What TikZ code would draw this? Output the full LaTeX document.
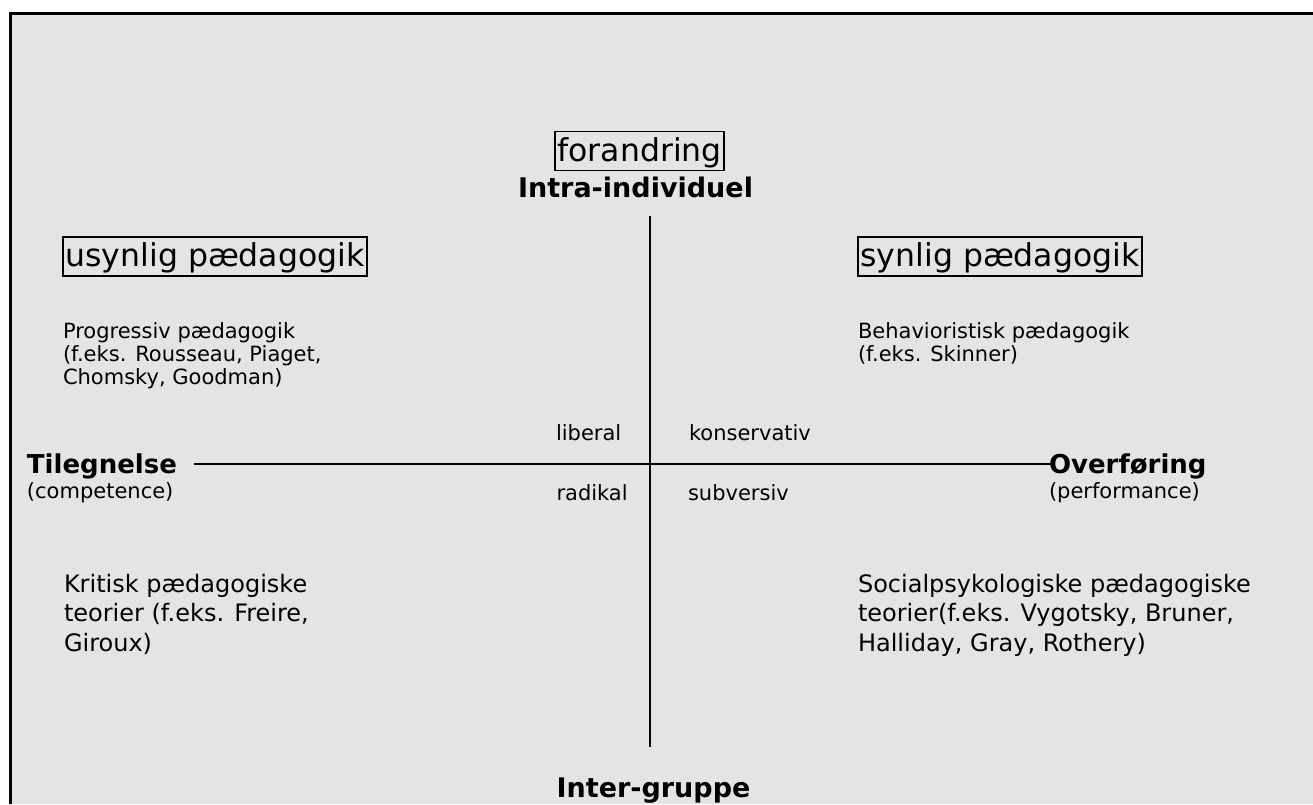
\documentclass[tikz,border=0pt]{standalone}
\usepackage{fontspec}
\setmainfont{DejaVu Sans}
\usetikzlibrary{positioning}
\definecolor{panel}{RGB}{228,228,228}

\begin{document}
\begin{tikzpicture}[x=1pt,y=-1pt,inner sep=0pt,outer sep=0pt,
                    body/.style={anchor=north west,align=left,font=\fontsize{21}{23}\selectfont},
                    big body/.style={anchor=north west,align=left,font=\fontsize{24}{29.5}\selectfont},
                    small/.style={anchor=base west,font=\fontsize{21}{23}\selectfont},
                    pole/.style={anchor=base west,font=\fontsize{26}{30}\selectfont\bfseries},
                    axis name/.style={anchor=base,font=\fontsize{27}{31}\selectfont\bfseries},
                    title box/.style={draw,line width=1.5pt,anchor=base west,inner xsep=2.5pt,
                                      text height=29.5pt,text depth=9.5pt,font=\fontsize{31.5}{36}\selectfont}]

  \useasboundingbox (0,0) rectangle (1313,804);
  \fill[panel] (10,13) rectangle (1313,804);
  \draw[line width=3pt] (10,804) -- (10,13) -- (1313,13);

  \node[title box] (forandring) at (555,161) {forandring};
  \node[axis name] (intra) at (635.5,197) {Intra-individuel};
  \node[axis name] (inter) at (653.5,797) {Inter-gruppe};

  \node[title box] (usynlig) at (63,266.5) {usynlig pædagogik};
  \node[title box] (synlig) at (858,266.5) {synlig pædagogik};

  \node[body] (progressiv) at (63,323) {Progressiv pædagogik\\(f.eks. Rousseau, Piaget,\\Chomsky, Goodman)};
  \node[body] (behavior) at (858,323) {Behavioristisk pædagogik\\(f.eks. Skinner)};
  \node[big body] (kritisk) at (64,574) {Kritisk pædagogiske\\teorier (f.eks. Freire,\\Giroux)};
  \node[big body] (social) at (858,574) {Socialpsykologiske pædagogiske\\teorier(f.eks. Vygotsky, Bruner,\\Halliday, Gray, Rothery)};

  \node[pole] (tilegnelse) at (27,473) {Tilegnelse};
  \node[small] (competence) at (27,498) {(competence)};
  \node[pole] (overfoering) at (1049,473) {Overføring};
  \node[small] (performance) at (1049,498) {(performance)};

  \node[small] (liberal) at (556,440.5) {liberal};
  \node[small] (konservativ) at (689,440.5) {konservativ};
  \node[small] (radikal) at (556.5,500) {radikal};
  \node[small] (subversiv) at (688,500) {subversiv};

  \coordinate (top) at (650,216);
  \coordinate (bottom) at (650,746.5);
  \coordinate (left) at (194,464);
  \coordinate (right) at (1051,464);

  \path[draw,line width=1.5pt]
    (top) edge (bottom)
    (left) edge (right);
\end{tikzpicture}
\end{document}
